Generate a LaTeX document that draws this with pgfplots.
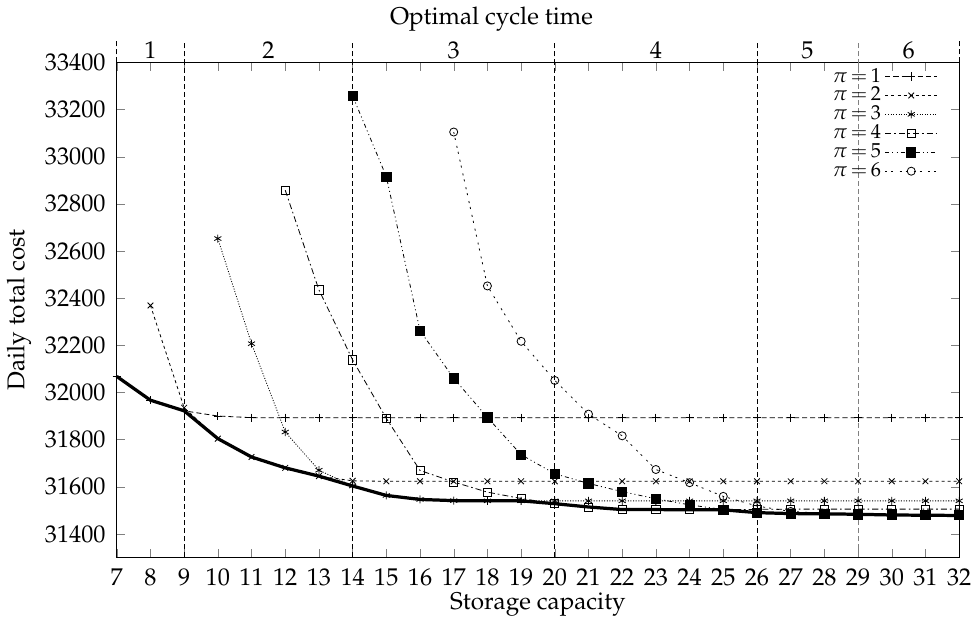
\documentclass[border=0pt]{standalone}
\usepackage[T1]{fontenc}
\usepackage{mathpazo}
\usepackage{pgfplots}
\pgfplotsset{compat=1.18}

\begin{document}
\begin{tikzpicture}
\begin{axis}[
  width=417pt, height=245pt, scale only axis,
  xmin=7, xmax=32, ymin=31300, ymax=33400,
  xtick={7,...,32}, ytick={31400,31600,...,33400},
  tick align=inside,
  scaled y ticks=false,
  tick label style={font=\large},
  y tick label style={/pgf/number format/1000 sep={}, xshift=-2pt},
  x tick label style={yshift=-2pt},
  xlabel={Storage capacity}, ylabel={Daily total cost},
  label style={font=\large},
  xlabel style={yshift=3.5pt},
  title={Optimal cycle time},
  title style={at={(0.5,1)}, anchor=south, yshift=6pt, xshift=-23pt, font=\large},
  clip=false,
  legend style={draw=none, fill=none, at={(0.982,1)}, anchor=north east, yshift=1.5pt,
    legend cell align=right, row sep=-3pt, font=\normalsize},
  legend plot pos=right,
  legend image code/.code={%
    \draw[mark repeat=2,mark phase=2,#1] plot coordinates {(0cm,0cm) (0.45cm,0cm) (0.9cm,0cm)};},
  every axis plot/.append style={black, thin, mark size=2pt, mark options={solid}},
]
% region boundaries
\draw[dash pattern=on 2.5pt off 1.5pt, thin] (axis cs:9,31300) -- ([yshift=11pt]axis cs:9,33400);
\draw[dash pattern=on 2.5pt off 1.5pt, thin] (axis cs:14,31300) -- ([yshift=11pt]axis cs:14,33400);
\draw[dash pattern=on 2.5pt off 1.5pt, thin] (axis cs:20,31300) -- ([yshift=11pt]axis cs:20,33400);
\draw[dash pattern=on 2.5pt off 1.5pt, thin] (axis cs:26,31300) -- ([yshift=11pt]axis cs:26,33400);
\draw[dash pattern=on 2.5pt off 1.5pt, thin, gray] (axis cs:29,31300) -- ([yshift=11pt]axis cs:29,33400);
\draw[dash pattern=on 2.5pt off 1.5pt, thin] (axis cs:7,33400) -- ([yshift=11pt]axis cs:7,33400);
\draw[dash pattern=on 2.5pt off 1.5pt, thin] (axis cs:32,33400) -- ([yshift=11pt]axis cs:32,33400);
\node[font=\large] at ([yshift=6pt]axis cs:8,33400) {1};
\node[font=\large] at ([yshift=6pt]axis cs:11.5,33400) {2};
\node[font=\large] at ([yshift=6pt]axis cs:17,33400) {3};
\node[font=\large] at ([yshift=6pt]axis cs:23,33400) {4};
\node[font=\large] at ([yshift=6pt]axis cs:27.5,33400) {5};
\node[font=\large] at ([yshift=6pt]axis cs:30.5,33400) {6};

% pi = 1
\addplot[mark=+, dash pattern=on 2.5pt off 1.5pt] coordinates {
 (7,32068) (8,31967) (9,31922) (10,31900) (11,31893) (12,31893) (13,31893)
 (14,31893) (15,31893) (16,31893) (17,31893) (18,31893) (19,31893) (20,31893)
 (21,31893) (22,31893) (23,31893) (24,31893) (25,31893) (26,31893) (27,31893)
 (28,31893) (29,31893) (30,31893) (31,31893) (32,31893)};
\addlegendentry{$\pi\,{=}\,1$}
% pi = 2
\addplot[mark=x, dash pattern=on 1.5pt off 1.5pt] coordinates {
 (8,32369) (9,31935) (10,31804) (11,31726) (12,31680) (13,31645) (14,31625)
 (15,31623) (16,31623) (17,31623) (18,31623) (19,31623) (20,31623) (21,31623)
 (22,31623) (23,31623) (24,31623) (25,31623) (26,31623) (27,31623) (28,31623)
 (29,31623) (30,31623) (31,31623) (32,31623)};
\addlegendentry{$\pi\,{=}\,2$}
% pi = 3
\addplot[mark=asterisk, dash pattern=on 0.5pt off 0.8pt] coordinates {
 (10,32653) (11,32207) (12,31832) (13,31670) (14,31603) (15,31563) (16,31546)
 (17,31541) (18,31540) (19,31540) (20,31540) (21,31540) (22,31540) (23,31540)
 (24,31540) (25,31540) (26,31540) (27,31540) (28,31540) (29,31540) (30,31540)
 (31,31540) (32,31540)};
\addlegendentry{$\pi\,{=}\,3$}
% pi = 4
\addplot[mark=square, dash pattern=on 3pt off 1.5pt on 0.8pt off 1.5pt] coordinates {
 (12,32858) (13,32435) (14,32138) (15,31890) (16,31669) (17,31620) (18,31577)
 (19,31550) (20,31528) (21,31514) (22,31503) (23,31503) (24,31502) (25,31502)
 (26,31504) (27,31505) (28,31505) (29,31505) (30,31505) (31,31505) (32,31505)};
\addlegendentry{$\pi\,{=}\,4$}
% pi = 5
\addplot[mark=square*, mark size=2.3pt, dash pattern=on 2pt off 1.5pt on 0.5pt off 1.5pt on 0.5pt off 1.5pt] coordinates {
 (14,33258) (15,32916) (16,32262) (17,32060) (18,31894) (19,31736) (20,31655)
 (21,31614) (22,31579) (23,31549) (24,31523) (25,31503) (26,31490) (27,31486)
 (28,31485) (29,31483) (30,31482) (31,31481) (32,31480)};
\addlegendentry{$\pi\,{=}\,5$}
% pi = 6
\addplot[mark=o, dash pattern=on 1pt off 2pt on 1pt off 3pt] coordinates {
 (17,33105) (18,32452) (19,32217) (20,32051) (21,31908) (22,31816) (23,31673)
 (24,31617) (25,31559) (26,31518) (27,31495) (28,31487) (29,31483) (30,31480)
 (31,31479) (32,31478)};
\addlegendentry{$\pi\,{=}\,6$}
% lower envelope
\addplot[line width=1.6pt, no marks, solid, forget plot] coordinates {
 (7,32068) (8,31967) (9,31922) (10,31804) (11,31726) (12,31680) (13,31645)
 (14,31603) (15,31563) (16,31546) (17,31541) (18,31540) (19,31540) (20,31528)
 (21,31514) (22,31503) (23,31503) (24,31502) (25,31502) (26,31490) (27,31486)
 (28,31485) (29,31483) (30,31480) (31,31479) (32,31478)};
\end{axis}
\end{tikzpicture}
\end{document}
